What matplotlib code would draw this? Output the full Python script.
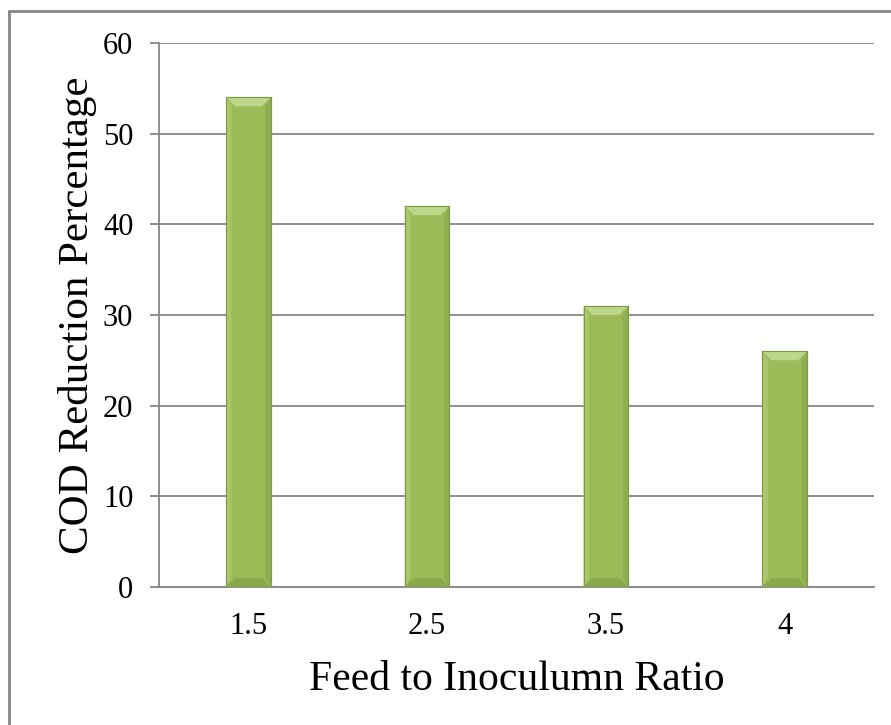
import numpy as np
import matplotlib
matplotlib.use('Agg')
import matplotlib.pyplot as plt
from matplotlib.patches import Polygon, Rectangle

# data
ratios = ['1.5', '2.5', '3.5', '4']
cod_reduction = [54, 42, 31, 26]
yticks = [0, 10, 20, 30, 40, 50, 60]

plt.rcParams['font.family'] = ['Liberation Serif', 'DejaVu Serif']

fig = plt.figure(figsize=(8.91, 7.25), dpi=100)
ax = fig.add_axes([159/891, 1 - 587/725, (874-159)/891, (587-43)/725])

x = np.arange(len(ratios))
bars = ax.bar(x, cod_reduction, width=0.25, color='#9bbb59', edgecolor='#7f9a45',
              linewidth=0.8, zorder=3)

ax.set_xlim(-0.5, len(ratios) - 0.5)
ax.set_ylim(0, 60)
ax.set_yticks(yticks)
ax.set_xticks(x)
ax.set_xticklabels(ratios)

# bevel look on each bar (size in pixels turned into data units)
fig.canvas.draw()
inv = ax.transData.inverted()
p0 = inv.transform((0, 0))
p1 = inv.transform((9, 9))
bx, by = p1 - p0
for b in bars:
    x0, y0 = b.get_x(), b.get_y()
    w, h = b.get_width(), b.get_height()
    x1, y1 = x0 + w, y0 + h
    # top facet (light)
    ax.add_patch(Polygon([(x0, y1), (x1, y1), (x1 - bx, y1 - by), (x0 + bx, y1 - by)],
                         closed=True, facecolor='#bcd68a', edgecolor='none', zorder=4))
    # bottom facet (dark)
    ax.add_patch(Polygon([(x0, y0), (x1, y0), (x1 - bx, y0 + by), (x0 + bx, y0 + by)],
                         closed=True, facecolor='#8aa84c', edgecolor='none', zorder=4))
    # left facet
    ax.add_patch(Polygon([(x0, y0), (x0, y1), (x0 + bx * 0.6, y1 - by), (x0 + bx * 0.6, y0 + by)],
                         closed=True, facecolor='#a9c76b', edgecolor='none', zorder=4))
    # right facet
    ax.add_patch(Polygon([(x1, y0), (x1, y1), (x1 - bx * 0.6, y1 - by), (x1 - bx * 0.6, y0 + by)],
                         closed=True, facecolor='#8fae50', edgecolor='none', zorder=4))
    ax.add_patch(Rectangle((x0, y0), w, h, facecolor='none', edgecolor='#7f9a45',
                           linewidth=0.8, zorder=5))

ax.yaxis.grid(True, color='#868686', linewidth=1.3, zorder=0)
ax.set_axisbelow(True)
for s in ['top', 'right']:
    ax.spines[s].set_visible(False)
ax.spines['left'].set_color('#868686')
ax.spines['bottom'].set_color('#868686')
ax.spines['left'].set_linewidth(1.3)
ax.spines['bottom'].set_linewidth(1.3)
ax.tick_params(axis='y', length=6.5, width=1.3, color='#868686', labelsize=22, pad=12)
ax.tick_params(axis='x', length=0, labelsize=22, pad=18)

ax.set_xlabel('Feed to Inoculumn Ratio', fontsize=30, labelpad=14)
ax.set_ylabel('COD Reduction Percentage', fontsize=31, labelpad=4)

# outer chart border
fig.patches.append(Rectangle((9/891, -0.1), 1.2, 1 - 11/725 + 0.1, transform=fig.transFigure,
                             fill=False, edgecolor='#868686', linewidth=2.0))

fig.savefig('out.png', dpi=100)
